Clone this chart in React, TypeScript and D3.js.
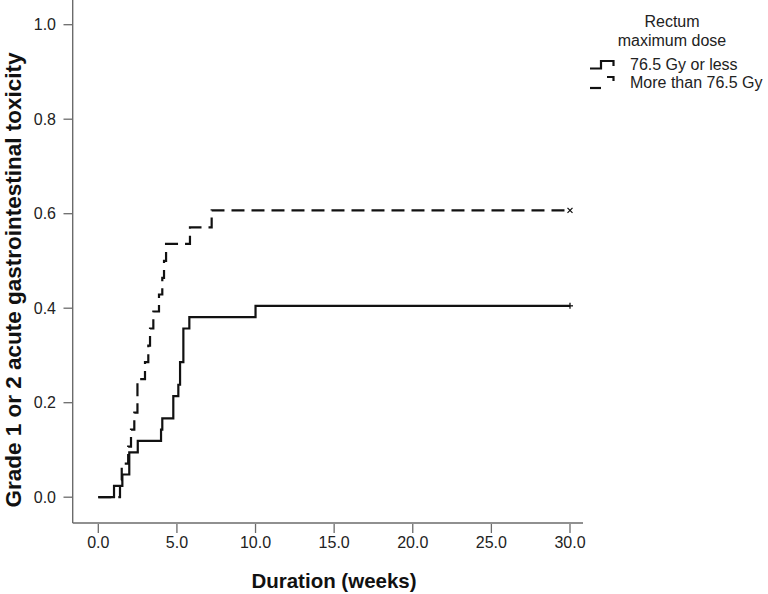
import React from "react";
import * as d3 from "d3";

// Solid: 76.5 Gy or less (event times in weeks, cumulative incidence)
const lowTimes = [1.0, 1.53, 1.97, 2.51, 3.99, 4.07, 4.77, 5.09, 5.2, 5.41, 5.79, 10.0];
const lowValues = [0.024, 0.048, 0.095, 0.119, 0.143, 0.167, 0.214, 0.238, 0.286, 0.357, 0.381, 0.405];
// Dashed: More than 76.5 Gy
const highTimes = [1.38, 1.49, 1.9, 2.08, 2.29, 2.49, 2.97, 3.18, 3.29, 3.5, 3.86, 4.07, 4.18, 4.31, 5.83, 7.21];
const highValues = [0.036, 0.071, 0.107, 0.143, 0.179, 0.25, 0.286, 0.321, 0.357, 0.393, 0.429, 0.464, 0.5, 0.536, 0.571, 0.607];
const followUpEnd = 30;

const xTicks = [0, 5, 10, 15, 20, 25, 30];
const yTicks = [0, 0.2, 0.4, 0.6, 0.8, 1.0];

const legendTitle = ["Rectum", "maximum dose"];
const legendLabels = ["76.5 Gy or less", "More than 76.5 Gy"];

const FONT = "'Liberation Sans', Arial, Helvetica, sans-serif";

export default function App() {
  const x = d3.scaleLinear().domain([0, 30]).range([98.3, 570]);
  const y = d3.scaleLinear().domain([0, 1]).range([497.2, 24.7]);
  const axisX = 72.7;
  const axisY = 523;
  const axisColor = "#6b6b6b";

  const build = (times: number[], vals: number[]) => {
    const pts: [number, number][] = [[0, 0]];
    times.forEach((t, i) => pts.push([t, vals[i]]));
    pts.push([followUpEnd, vals[vals.length - 1]]);
    return pts;
  };
  const line = d3
    .line<[number, number]>()
    .x((d) => x(d[0]))
    .y((d) => y(d[1]))
    .curve(d3.curveStepAfter);

  const lowPts = build(lowTimes, lowValues);
  const highPts = build(highTimes, highValues);
  const lowEnd = lowPts[lowPts.length - 1];
  const highEnd = highPts[highPts.length - 1];

  return (
    <svg
      width={768}
      height={594}
      style={{ position: "absolute", left: 0, top: 0, background: "#fff" }}
      fontFamily={FONT}
    >
      {/* axes */}
      <line x1={axisX} y1={0} x2={axisX} y2={axisY} stroke={axisColor} strokeWidth={1.4} />
      <line x1={axisX} y1={axisY} x2={583} y2={axisY} stroke={axisColor} strokeWidth={1.4} />
      {yTicks.map((t) => (
        <g key={"y" + t}>
          <line x1={63.5} x2={axisX} y1={y(t)} y2={y(t)} stroke={axisColor} strokeWidth={1.3} />
          <text x={56} y={y(t) + 5.7} textAnchor="end" fontSize={16} fill="#222">
            {t.toFixed(1)}
          </text>
        </g>
      ))}
      {xTicks.map((t) => (
        <g key={"x" + t}>
          <line x1={x(t)} x2={x(t)} y1={axisY + 1} y2={533} stroke={axisColor} strokeWidth={1.3} />
          <text x={x(t)} y={547.5} textAnchor="middle" fontSize={16} fill="#222">
            {t.toFixed(1)}
          </text>
        </g>
      ))}
      <text x={334} y={588} textAnchor="middle" fontSize={20.5} fontWeight="bold" fill="#111">
        Duration (weeks)
      </text>
      <text
        transform={`translate(20.5,${280}) rotate(-90)`}
        textAnchor="middle"
        fontSize={22.5}
        fontWeight="bold"
        fill="#111"
      >
        Grade 1 or 2 acute gastrointestinal toxicity
      </text>

      {/* curves */}
      <path d={line(highPts) || ""} fill="none" stroke="#111" strokeWidth={2.2} strokeDasharray="13,7" />
      <path d={line(lowPts) || ""} fill="none" stroke="#111" strokeWidth={2.2} />

      {/* censor marks */}
      <g stroke="#111" strokeWidth={1.3}>
        <line x1={x(lowEnd[0]) - 3} x2={x(lowEnd[0]) + 3} y1={y(lowEnd[1])} y2={y(lowEnd[1])} />
        <line x1={x(lowEnd[0])} x2={x(lowEnd[0])} y1={y(lowEnd[1]) - 3} y2={y(lowEnd[1]) + 3} />
        <line x1={x(highEnd[0]) - 2.5} x2={x(highEnd[0]) + 2.5} y1={y(highEnd[1]) - 2.5} y2={y(highEnd[1]) + 2.5} />
        <line x1={x(highEnd[0]) - 2.5} x2={x(highEnd[0]) + 2.5} y1={y(highEnd[1]) + 2.5} y2={y(highEnd[1]) - 2.5} />
      </g>

      {/* legend */}
      <text x={672} y={27} textAnchor="middle" fontSize={16} fill="#222">
        {legendTitle[0]}
      </text>
      <text x={672} y={46} textAnchor="middle" fontSize={16} fill="#222">
        {legendTitle[1]}
      </text>
      <path d="M590,68.5 H601 V61 H613.5 V66" fill="none" stroke="#111" strokeWidth={2.2} />
      <path d="M590,88 H601" fill="none" stroke="#111" strokeWidth={2.2} />
      <path d="M607,77 H613.5 V81" fill="none" stroke="#111" strokeWidth={2.2} />
      <text x={630} y={70} fontSize={16} fill="#222">
        {legendLabels[0]}
      </text>
      <text x={630} y={88} fontSize={16} fill="#222">
        {legendLabels[1]}
      </text>
    </svg>
  );
}
